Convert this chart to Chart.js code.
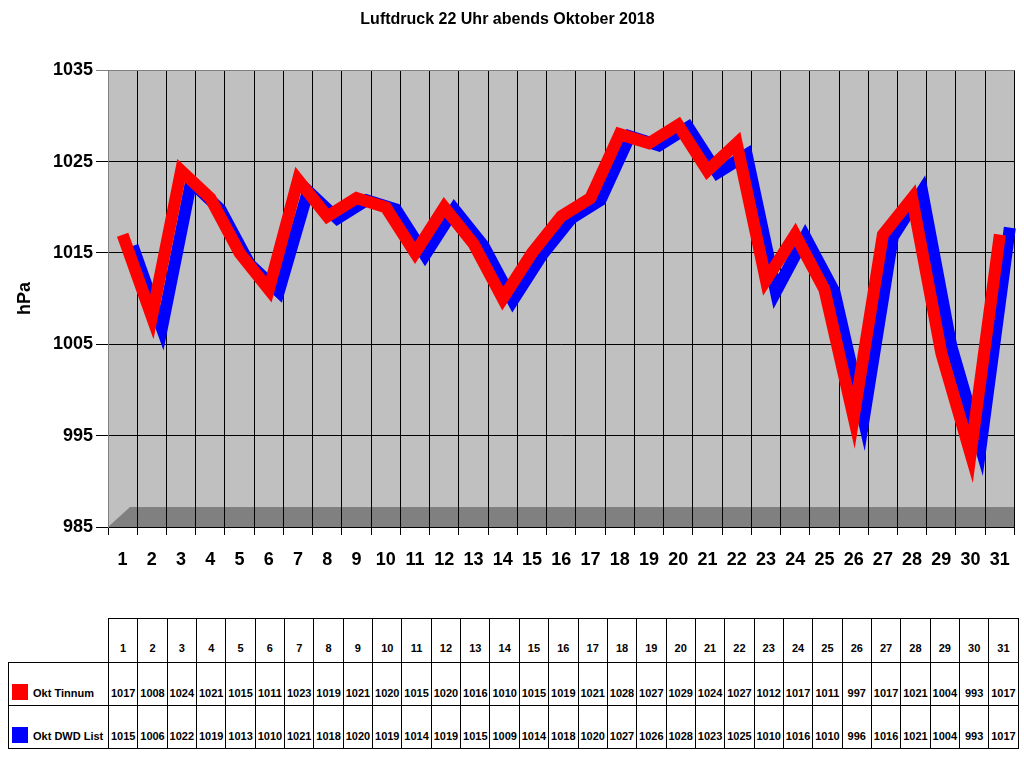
<!DOCTYPE html>
<html>
<head>
<meta charset="utf-8">
<script src="https://cdn.jsdelivr.net/npm/chart.js@4/dist/chart.umd.min.js"></script>
<style>
  html, body { margin: 0; padding: 0; background: #fff; }
  body { width: 1024px; height: 768px; position: relative; overflow: hidden; font-family: "Liberation Sans", Arial, sans-serif; }
  #wrap { position: absolute; left: 0; top: 0; width: 1024px; height: 600px; }
  #tbl { position: absolute; left: 8px; top: 618px; border-collapse: collapse; table-layout: fixed; font-weight: bold; font-size: 11px; color: #000; }
  #tbl td { border: 1px solid #000; text-align: center; vertical-align: bottom; padding: 0 0 6px 0; height: 36px; white-space: nowrap; overflow: hidden; }
  #tbl tr.head td { height: 35px; vertical-align: bottom; padding-bottom: 8px; }
  #tbl td.blank { border: none; }
  #tbl td.leg { text-align: left; padding-left: 3px; padding-bottom: 5px; }
  .sw { display: inline-block; width: 16px; height: 16px; margin-right: 5px; vertical-align: -3px; }
</style>
</head>
<body>
<div id="wrap"><canvas id="chart" width="1024" height="600"></canvas></div>
<table id="tbl"></table>
<script>
// Tage im Oktober
const days = ['1','2','3','4','5','6','7','8','9','10','11','12','13','14','15','16','17','18','19','20','21','22','23','24','25','26','27','28','29','30','31'];
// Luftdruck 22 Uhr (hPa)
const tinnum = [1017,1008,1024,1021,1015,1011,1023,1019,1021,1020,1015,1020,1016,1010,1015,1019,1021,1028,1027,1029,1024,1027,1012,1017,1011,997,1017,1021,1004,993,1017];
const dwdList = [1015,1006,1022,1019,1013,1010,1021,1018,1020,1019,1014,1019,1015,1009,1014,1018,1020,1027,1026,1028,1023,1025,1010,1016,1010,996,1016,1021,1004,993,1017];
const seriesNames = ['Okt Tinnum', 'Okt DWD List'];
const seriesColors = ['#ff0000', '#0000ff'];
const yTicks = [985, 995, 1005, 1015, 1025, 1035];

const fontFam = '"Liberation Sans", Arial, sans-serif';

// grauer Hintergrund + Boden
const wallPlugin = {
  id: 'wall',
  beforeDraw(chart) {
    const { ctx, chartArea: a } = chart;
    ctx.save();
    ctx.fillStyle = '#c0c0c0';
    ctx.fillRect(a.left, a.top, a.right - a.left, a.bottom - a.top);
    ctx.fillStyle = '#808080';
    ctx.beginPath();
    ctx.moveTo(a.left, a.bottom);
    ctx.lineTo(a.left + 22, a.bottom - 20);
    ctx.lineTo(a.right, a.bottom - 20);
    ctx.lineTo(a.right, a.bottom);
    ctx.closePath();
    ctx.fill();
    ctx.restore();
  }
};

// blaue Reihe liegt dahinter, leicht versetzt
const depthPlugin = {
  id: 'depth',
  beforeDatasetDraw(chart, args) {
    if (args.index === 1) {
      chart.ctx.save();
      chart.ctx.translate(10, -7);
    }
  },
  afterDatasetDraw(chart, args) {
    if (args.index === 1) chart.ctx.restore();
  }
};

new Chart(document.getElementById('chart'), {
  type: 'line',
  data: {
    labels: days,
    datasets: [
      { label: seriesNames[0], data: tinnum, borderColor: seriesColors[0], borderWidth: 12, pointRadius: 0, borderJoinStyle: 'miter', tension: 0 },
      { label: seriesNames[1], data: dwdList, borderColor: seriesColors[1], borderWidth: 12, pointRadius: 0, borderJoinStyle: 'miter', tension: 0 }
    ]
  },
  options: {
    responsive: false,
    animation: false,
    layout: { padding: { left: 0, right: 9, top: 0, bottom: 13 } },
    plugins: {
      legend: { display: false },
      tooltip: { enabled: false },
      title: {
        display: true,
        text: 'Luftdruck 22 Uhr abends Oktober 2018',
        color: '#000',
        font: { family: fontFam, size: 16, weight: 'bold' },
        padding: { top: 10, bottom: 41 }
      }
    },
    scales: {
      x: {
        offset: true,
        grid: { offset: true, color: '#000', drawTicks: true, tickLength: 8 },
        border: { color: '#000' },
        ticks: { color: '#000', font: { family: fontFam, size: 18, weight: 'bold' }, padding: 14, maxRotation: 0, autoSkip: false },
        afterFit(s) { s.height = 60; }
      },
      y: {
        min: 985,
        max: 1035,
        afterBuildTicks(s) { s.ticks = yTicks.map(v => ({ value: v })); },
        grid: { color: c => (c.tick && c.tick.value === 1035) ? '#808080' : '#000', tickLength: 12 },
        border: { color: '#808080' },
        ticks: { color: '#000', font: { family: fontFam, size: 18, weight: 'bold' }, padding: 3, callback: v => String(v) },
        title: { display: true, text: 'hPa', color: '#000', font: { family: fontFam, size: 18, weight: 'bold' }, padding: { top: 14, bottom: 0 } },
        afterFit(s) { s.width = 108; }
      }
    }
  },
  plugins: [wallPlugin, depthPlugin]
});

// Datentabelle
const tbl = document.getElementById('tbl');
let html = '<colgroup><col style="width:100px">';
days.forEach(() => { html += '<col style="width:29.35px">'; });
html += '</colgroup><tr class="head"><td class="blank"></td>';
days.forEach(d => { html += '<td>' + d + '</td>'; });
html += '</tr>';
[tinnum, dwdList].forEach((vals, i) => {
  html += '<tr><td class="leg"><span class="sw" style="background:' + seriesColors[i] + '"></span>' + seriesNames[i] + '</td>';
  vals.forEach(v => { html += '<td>' + v + '</td>'; });
  html += '</tr>';
});
tbl.innerHTML = html;
</script>
</body>
</html>
